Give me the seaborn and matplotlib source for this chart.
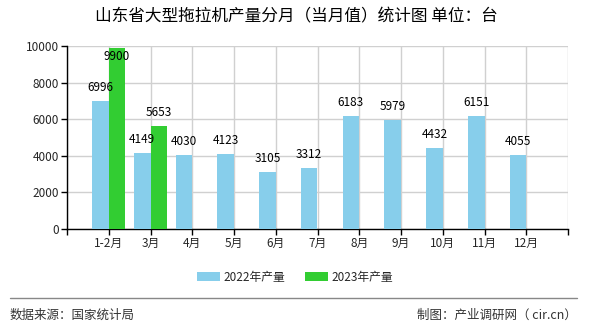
import matplotlib
matplotlib.use("Agg")
import matplotlib.pyplot as plt
import seaborn as sns
import pandas as pd
import numpy as np
from matplotlib.patches import Patch

months = ["1-2月", "3月", "4月", "5月", "6月", "7月", "8月", "9月", "10月", "11月", "12月"]
output_2022 = [6996, 4149, 4030, 4123, 3105, 3312, 6183, 5979, 4432, 6151, 4055]
output_2023 = [9900, 5653]
series_names = ["2022年产量", "2023年产量"]
colors = ["#87CEEB", "#32CD32"]
y_ticks = [0, 2000, 4000, 6000, 8000, 10000]

sns.set_style("white")
plt.rcParams["font.family"] = ["Noto Sans CJK SC", "DejaVu Sans"]

vals_2023 = output_2023 + [np.nan] * (len(months) - len(output_2023))
df = pd.DataFrame({
    "month": months * 2,
    "series": [series_names[0]] * len(months) + [series_names[1]] * len(months),
    "value": output_2022 + vals_2023,
})

W, H = 590, 330
fig = plt.figure(figsize=(W / 100, H / 100), dpi=100)
ax = fig.add_axes([67 / W, (H - 229) / H, 501 / W, 183 / H])

sns.barplot(data=df, x="month", y="value", hue="series", order=months,
            hue_order=series_names, palette=colors, width=0.8,
            saturation=1, ax=ax, legend=False, zorder=3,
            linewidth=0, edgecolor="none")

ax.set_xlim(-1, len(months))
ax.set_ylim(0, 10000)
ax.set_yticks(y_ticks)
ax.set_yticklabels([str(v) for v in y_ticks], fontsize=8.5)
xt = list(range(-1, len(months) + 1))
ax.set_xticks(xt)
ax.set_xticklabels([""] + months + [""], fontsize=8.5)
ax.set_xlabel("")
ax.set_ylabel("")

ax.grid(True, color="#d0d0d0", linewidth=1, zorder=0)
ax.set_axisbelow(True)
for s in ["top", "right"]:
    ax.spines[s].set_visible(False)
for s in ["left", "bottom"]:
    ax.spines[s].set_color("black")
    ax.spines[s].set_linewidth(1)
ax.tick_params(axis="both", length=4, width=1, color="black", pad=2,
               bottom=True, left=True)

# value labels above each bar
for i, v in enumerate(output_2022):
    ax.annotate(str(v), (i - 0.2, v), xytext=(0, 5), textcoords="offset points",
                ha="center", va="bottom", fontsize=8.5, color="black")
for i, v in enumerate(output_2023):
    off = -11 if v > 9000 else 5
    ax.annotate(str(v), (i + 0.2, v), xytext=(0, off), textcoords="offset points",
                ha="center", va="bottom", fontsize=8.5, color="black")

fig.text(296 / W, 1 - 17 / H, "山东省大型拖拉机产量分月（当月值）统计图 单位：台",
         ha="center", va="center", fontsize=12, color="black")

# legend
handles = [Patch(facecolor=c, edgecolor="none") for c in colors]
fig.legend(handles, series_names, loc="center", bbox_to_anchor=(0.5, 1 - 277 / H),
           ncol=2, frameon=False, fontsize=8.5, handlelength=2.0, handleheight=0.9,
           columnspacing=1.6, handletextpad=0.3)

fig.add_artist(plt.Line2D([10 / W, 577 / W], [1 - 298 / H, 1 - 298 / H],
                          color="#888888", linewidth=1))
fig.text(10 / W, 1 - 315 / H, "数据来源：国家统计局", ha="left", va="center",
         fontsize=9, color="#333333")
fig.text(577 / W, 1 - 315 / H, "制图：产业调研网（ cir.cn）", ha="right", va="center",
         fontsize=9, color="#333333")

fig.savefig("out.png", dpi=100, facecolor="white")
